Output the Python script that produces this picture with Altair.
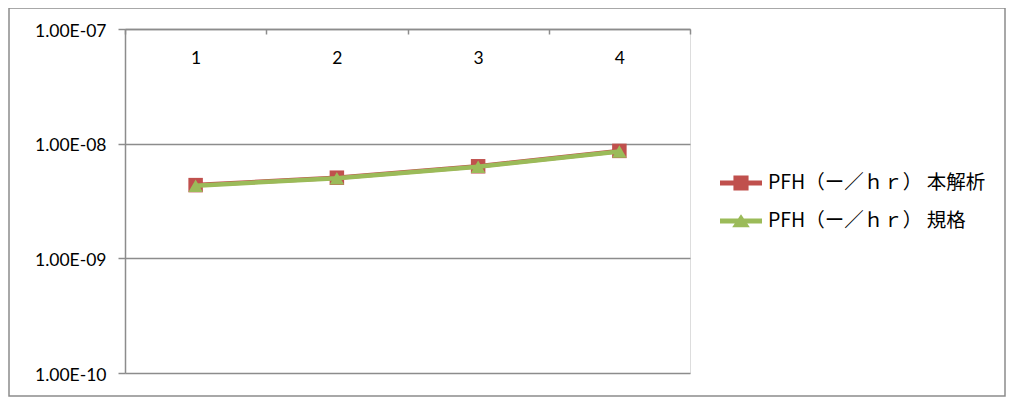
import altair as alt
import pandas as pd

categories = ["1", "2", "3", "4"]
series_names = ["PFH（ー／ｈｒ） 本解析", "PFH（ー／ｈｒ） 規格"]
pfh_analysis = [4.35e-9, 5.05e-9, 6.35e-9, 8.65e-9]
pfh_standard = [4.3e-9, 5.0e-9, 6.3e-9, 8.55e-9]
y_ticks = [1e-10, 1e-9, 1e-8, 1e-7]
colors = ["#C0504D", "#9BBB59"]
legend_paths = [
    "M-1,-0.12H1V0.12H-1Z M-0.36,-0.36H0.36V0.36H-0.36Z",
    "M-1,-0.12H1V0.12H-1Z M0,-0.32L0.42,0.3L-0.42,0.3Z",
]

df = pd.DataFrame({
    "cat": categories * 2,
    "series": [series_names[0]] * 4 + [series_names[1]] * 4,
    "value": pfh_analysis + pfh_standard,
})

W, H = 565, 344
GRAY = "#8c8c8c"

exp_expr = "abs(round(log(datum.value)/LN10))"
label_expr = ("format(datum.value / pow(10, round(log(datum.value)/LN10)), '.2f') + 'E-' + "
              f"({exp_expr} < 10 ? '0' : '') + {exp_expr}")

x_enc = alt.X(
    "cat:N", sort=categories,
    scale=alt.Scale(type="band", paddingInner=0, paddingOuter=0),
    axis=alt.Axis(orient="bottom", offset=-H, title=None, tickBand="extent",
                  tickSize=5, labelPadding=15, labelAngle=0, grid=False,
                  domainColor=GRAY, tickColor=GRAY, domainWidth=1.5, tickWidth=1.5,
                  labelFont="Lato", labelFontSize=17.5, labelColor="black"),
)
y_enc = alt.Y(
    "value:Q",
    scale=alt.Scale(type="log", domain=[1e-10, 1e-7], nice=False),
    axis=alt.Axis(values=y_ticks, labelExpr=label_expr, grid=True, gridColor=GRAY,
                  gridWidth=1.5, domainColor=GRAY, domainWidth=1.5, tickColor=GRAY,
                  tickWidth=1.5, tickSize=7, labelPadding=12, labelOffset=2, title=None,
                  labelFont="Lato", labelFontSize=17.5, labelColor="black"),
)

base = alt.Chart(df)

border = alt.Chart(pd.DataFrame({"a": [0]})).mark_rect(
    fill="transparent", stroke=GRAY, strokeWidth=1.5
).encode(x=alt.value(-116), x2=alt.value(880), y=alt.value(-21), y2=alt.value(367))

def line_layer(i):
    return base.transform_filter(alt.datum.series == series_names[i]).mark_line(
        strokeWidth=4.5, color=colors[i]
    ).encode(x=x_enc, y=y_enc)

def point_layer(i, shape):
    return base.transform_filter(alt.datum.series == series_names[i]).mark_point(
        shape=shape, filled=True, size=210, opacity=1, color=colors[i]
    ).encode(x=x_enc, y=y_enc)

leg = alt.Legend(orient="none", legendX=595, legendY=133, title=None,
                 symbolSize=1764, rowPadding=7, labelOffset=6,
                 labelFont="Noto Sans CJK JP", labelFontSize=19.5, labelColor="black",
                 labelLimit=400, symbolStrokeWidth=0, symbolOpacity=1)

legend_layer = base.transform_filter("false").mark_point(filled=True, opacity=1).encode(
    x=x_enc, y=y_enc,
    color=alt.Color("series:N", scale=alt.Scale(domain=series_names, range=colors), legend=leg),
    shape=alt.Shape("series:N", scale=alt.Scale(domain=series_names, range=legend_paths), legend=leg),
)

chart = alt.layer(
    border,
    line_layer(0), point_layer(0, "square"),
    line_layer(1), point_layer(1, "triangle-up"),
    legend_layer,
).properties(
    width=W, height=H,
    autosize=alt.AutoSizeParams(type="none"),
    padding={"left": 117, "top": 21, "right": 316, "bottom": 24},
).configure_view(stroke=None).configure(background="white")

chart.save("out.html", embed_options={"renderer": "svg", "actions": False})
